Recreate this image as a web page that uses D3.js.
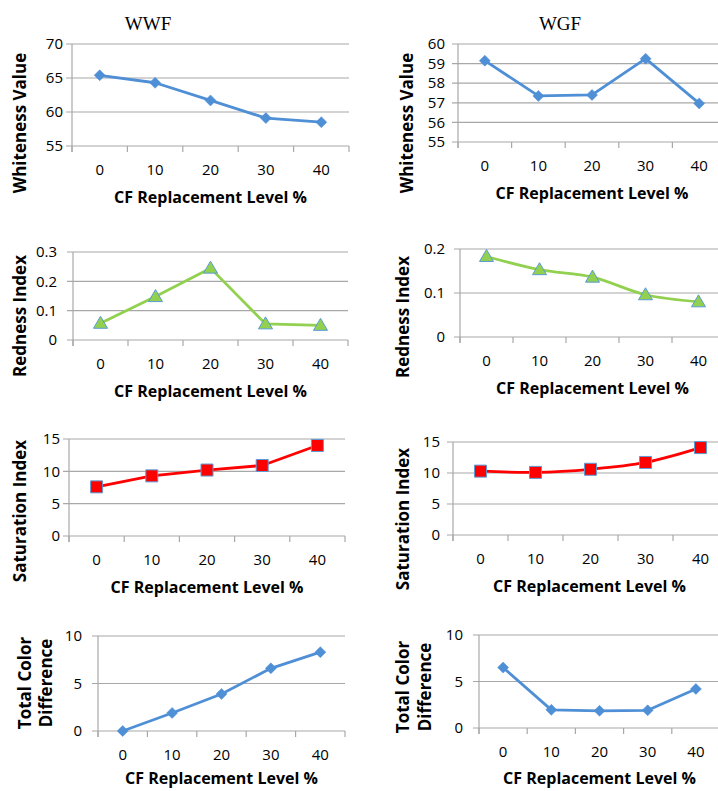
<!DOCTYPE html>
<html>
<head>
<meta charset="utf-8">
<script src="https://cdn.jsdelivr.net/npm/d3@7"></script>
<style>
  body { margin: 0; background: #fff; }
  svg { display: block; }
</style>
</head>
<body>
<svg id="chart" width="718" height="791"></svg>
<script>
// data
const categories = ["0", "10", "20", "30", "40"];
const wwfWhiteness = [65.4, 64.3, 61.7, 59.1, 58.5];
const wgfWhiteness = [59.15, 57.35, 57.4, 59.25, 56.97];
const wwfRedness = [0.057, 0.148, 0.245, 0.055, 0.05];
const wgfRedness = [0.183, 0.153, 0.136, 0.096, 0.08];
const wwfSaturation = [7.6, 9.3, 10.2, 10.9, 14.0];
const wgfSaturation = [10.3, 10.1, 10.6, 11.7, 14.1];
const wwfColorDiff = [0, 1.9, 3.9, 6.6, 8.3];
const wgfColorDiff = [6.5, 1.95, 1.85, 1.9, 4.2];

const whitenessTicksWWF = [55, 60, 65, 70];
const whitenessTicksWGF = [55, 56, 57, 58, 59, 60];
const rednessTicksWWF = [0, 0.1, 0.2, 0.3];
const rednessTicksWGF = [0, 0.1, 0.2];
const saturationTicks = [0, 5, 10, 15];
const colorDiffTicks = [0, 5, 10];

const xTitle = "CF Replacement Level %";

const blue = "#4f8fd6", green = "#92d050", red = "#ff0000", edge = "#5b9bd5";
const grid = "#a8a8a8";
const sans = "'Open Sans', 'DejaVu Sans', sans-serif";

const panels = [
  { values: wwfWhiteness, ticks: whitenessTicksWWF, dom: [55, 70], x0: 72, x1: 349, top: 44, bottom: 146,
    color: blue, marker: "diamond", yTitle: ["Whiteness Value"], yTx: [20], yTy: 123, gap: 9,
    title: "WWF", titleX: 148 },
  { values: wgfWhiteness, ticks: whitenessTicksWGF, dom: [55, 60], x0: 458, x1: 726, top: 44, bottom: 142,
    color: blue, marker: "diamond", yTitle: ["Whiteness Value"], yTx: [407], yTy: 123, gap: 13,
    title: "WGF", titleX: 560 },
  { values: wwfRedness, ticks: rednessTicksWWF, dom: [0, 0.3], x0: 73, x1: 348, top: 252, bottom: 340,
    color: green, marker: "triangle", yTitle: ["Redness Index"], yTx: [20], yTy: 316, gap: 16 },
  { values: wgfRedness, ticks: rednessTicksWGF, dom: [0, 0.2], x0: 460, x1: 725, top: 249, bottom: 337,
    color: green, marker: "triangle", yTitle: ["Redness Index"], yTx: [403], yTy: 317, gap: 15, smooth: true },
  { values: wwfSaturation, ticks: saturationTicks, dom: [0, 15], x0: 69, x1: 345, top: 439, bottom: 536,
    color: red, marker: "square", yTitle: ["Saturation Index"], yTx: [20], yTy: 511, gap: 9 },
  { values: wgfSaturation, ticks: saturationTicks, dom: [0, 15], x0: 453, x1: 728, top: 442, bottom: 535,
    color: red, marker: "square", yTitle: ["Saturation Index"], yTx: [403], yTy: 519, gap: 13, smooth: true },
  { values: wwfColorDiff, ticks: colorDiffTicks, dom: [0, 10], x0: 98, x1: 345, top: 636, bottom: 731,
    color: blue, marker: "diamond", yTitle: ["Total Color", "Difference"], yTx: [25, 46], yTy: 683, gap: 16,
    xTitleY: 784 },
  { values: wgfColorDiff, ticks: colorDiffTicks, dom: [0, 10], x0: 479, x1: 720, top: 635, bottom: 728,
    color: blue, marker: "diamond", yTitle: ["Total Color", "Difference"], yTx: [403, 425], yTy: 687, gap: 16,
    xTitleY: 784 }
];

const svg = d3.select("#chart");

function markerPath(type) {
  if (type === "diamond") return "M0,-5.5L5.5,0L0,5.5L-5.5,0Z";
  if (type === "triangle") return "M0,-7L7,5L-7,5Z";
  return "M-6,-6H6V6H-6Z";
}

panels.forEach(function(p) {
  const g = svg.append("g");

  const x = d3.scaleBand().domain(categories).range([p.x0, p.x1]).padding(0);
  const y = d3.scaleLinear().domain(p.dom).range([p.bottom, p.top]);

  // gridlines, with short stubs left of the axis
  g.selectAll(".grid").data(p.ticks).enter().append("line")
    .attr("x1", p.x0 - 6).attr("x2", Math.min(p.x1, 718))
    .attr("y1", d => y(d)).attr("y2", d => y(d))
    .attr("stroke", grid).attr("stroke-width", 1.2);

  g.append("line")
    .attr("x1", p.x0).attr("x2", p.x0)
    .attr("y1", p.top).attr("y2", p.bottom + 6)
    .attr("stroke", grid).attr("stroke-width", 1.2);

  // category tick marks sit on the band edges
  const edges = categories.map(c => x(c)).concat([p.x1]);
  g.selectAll(".xtick").data(edges).enter().append("line")
    .attr("x1", d => d).attr("x2", d => d)
    .attr("y1", p.bottom).attr("y2", p.bottom + 6)
    .attr("stroke", grid).attr("stroke-width", 1.2);

  g.selectAll(".ylab").data(p.ticks).enter().append("text")
    .attr("x", p.x0 - p.gap).attr("y", d => y(d))
    .attr("dy", "0.35em").attr("text-anchor", "end")
    .attr("font-family", sans).attr("font-size", 15)
    .attr("fill", "#000")
    .text(d => d);

  g.selectAll(".xlab").data(categories).enter().append("text")
    .attr("x", d => x(d) + x.bandwidth() / 2).attr("y", p.bottom + 24)
    .attr("dy", "0.35em").attr("text-anchor", "middle")
    .attr("font-family", sans).attr("font-size", 15)
    .attr("fill", "#000")
    .text(d => d);

  g.append("text")
    .attr("x", (p.x0 + Math.min(p.x1, 726)) / 2).attr("y", p.xTitleY || p.bottom + 57)
    .attr("text-anchor", "middle")
    .attr("font-family", sans).attr("font-size", 16)
    .attr("font-weight", "bold").attr("fill", "#000")
    .text(xTitle);

  p.yTitle.forEach(function(t, i) {
    g.append("text")
      .attr("transform", `translate(${p.yTx[i]},${p.yTy}) rotate(-90)`)
      .attr("dy", "0.35em").attr("text-anchor", "middle")
      .attr("font-family", sans).attr("font-size", 17)
      .attr("font-weight", "bold").attr("fill", "#000")
      .text(t);
  });

  if (p.title) {
    g.append("text")
      .attr("x", p.titleX).attr("y", 30)
      .attr("text-anchor", "middle")
      .attr("font-family", "'Liberation Serif', 'Times New Roman', serif").attr("font-size", 19)
      .attr("fill", "#000")
      .text(p.title);
  }

  const pts = categories.map((c, i) => [x(c) + x.bandwidth() / 2, y(p.values[i])]);

  const line = d3.line()
    .x(d => d[0]).y(d => d[1])
    .curve(p.smooth ? d3.curveCatmullRom.alpha(0.5) : d3.curveLinear);

  g.append("path")
    .attr("d", line(pts))
    .attr("fill", "none").attr("stroke", p.color)
    .attr("stroke-width", 2.8).attr("stroke-linejoin", "round");

  g.selectAll(".mk").data(pts).enter().append("path")
    .attr("transform", d => `translate(${d[0]},${d[1]})`)
    .attr("d", markerPath(p.marker))
    .attr("fill", p.color)
    .attr("stroke", p.marker === "diamond" ? p.color : edge)
    .attr("stroke-width", p.marker === "diamond" ? 0.5 : 1);
});
</script>
</body>
</html>
